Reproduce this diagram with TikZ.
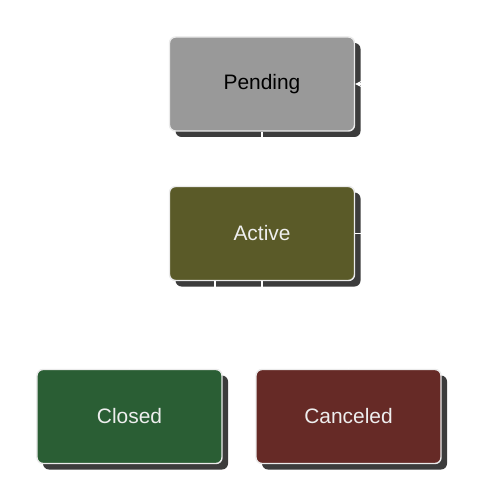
\documentclass[tikz,border=0pt]{standalone}
\usepackage{fontspec}
\setmainfont{Liberation Sans}
\usetikzlibrary{shadows,arrows.meta}
\definecolor{pendfill}{HTML}{999999}
\definecolor{actfill}{HTML}{5A5A28}
\definecolor{closfill}{HTML}{2A5E34}
\definecolor{cancfill}{HTML}{662A26}
\definecolor{shadowc}{HTML}{3C3C3C}
\definecolor{lighttext}{HTML}{EEEEEE}
\begin{document}
\begin{tikzpicture}[x=1bp,y=-1bp,
  statebox/.style={draw=white!92!black, line width=1.4bp, rounded corners=6bp,
    minimum width=185bp, minimum height=94bp, inner sep=0pt,
    font=\fontsize{21}{25}\selectfont,
    general shadow={shadow xshift=6bp, shadow yshift=-6bp, fill=shadowc}},
  conn/.style={draw=white, line width=1.4bp, -{Stealth[length=6bp,width=6bp]}}]
\useasboundingbox (0,0) rectangle (479,504);
\node[statebox, fill=pendfill, text=black] (pending) at (262,84) {Pending};
\node[statebox, fill=actfill, text=lighttext] (active) at (262,233.5) {Active};
\node[statebox, fill=closfill, text=lighttext] (closed) at (129.5,416.5) {Closed};
\node[statebox, fill=cancfill, text=lighttext] (canceled) at (348.5,416.5) {Canceled};
\draw[conn] (pending.south) -- (active.north);
\draw[conn] (active.south -| 215,0) |- (129.5,325) -- (closed.north);
\draw[conn] (active.south) |- (348.5,335) -- (canceled.north);
\draw[conn] (active.east) -- (385,233.5) |- (pending.east);
\end{tikzpicture}
\end{document}
